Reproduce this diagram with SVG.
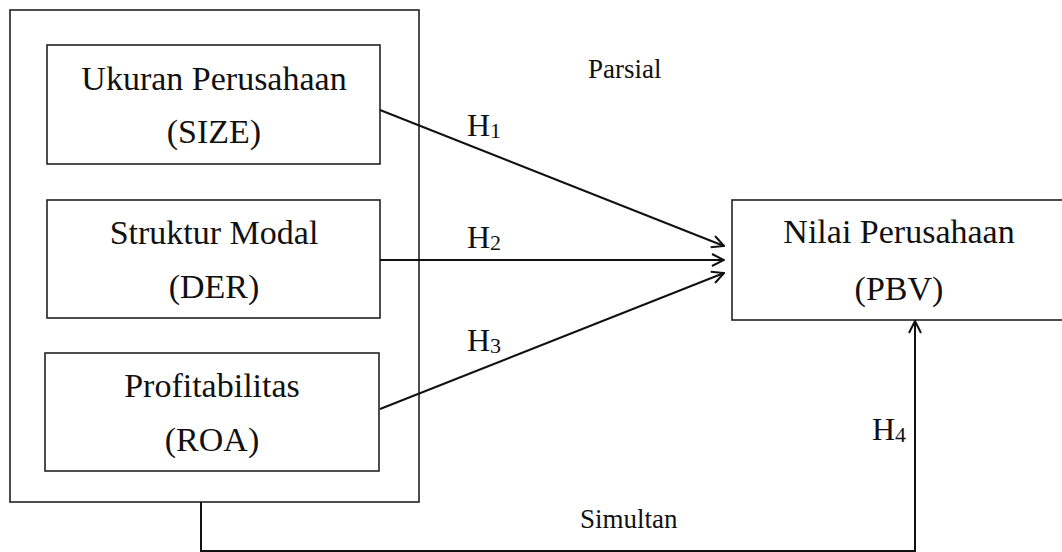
<svg xmlns="http://www.w3.org/2000/svg" width="1062" height="552" viewBox="0 0 1062 552">
<style>
.box{fill:#fff;stroke:#222;stroke-width:1.6}
.main{font-family:"Liberation Serif","Times New Roman",serif;font-size:34px;fill:#111;text-anchor:middle}
.lbl{font-family:"Liberation Serif","Times New Roman",serif;font-size:27px;fill:#111}
.hl{font-family:"Liberation Serif","Times New Roman",serif;font-size:32px;fill:#111}
.sub{font-size:22px}
.line{fill:none;stroke:#111;stroke-width:2}
</style>
<defs>
<marker id="arr" viewBox="0 0 14 14" refX="13" refY="7" markerWidth="14" markerHeight="14" markerUnits="userSpaceOnUse" orient="auto">
<path d="M1,1 L13,7 L1,13" fill="none" stroke="#111" stroke-width="2"/>
</marker>
</defs>
<rect width="1062" height="552" fill="#fff"/>
<g id="outer">
<rect class="box" x="10" y="10" width="409" height="492"/>
</g>
<g id="size">
<rect class="box" x="47" y="45" width="333" height="119"/>
<text class="main" x="214" y="90">Ukuran Perusahaan</text>
<text class="main" x="214" y="143">(SIZE)</text>
</g>
<g id="der">
<rect class="box" x="47" y="200" width="333" height="118"/>
<text class="main" x="214" y="244">Struktur Modal</text>
<text class="main" x="214" y="298">(DER)</text>
</g>
<g id="roa">
<rect class="box" x="45" y="353" width="334" height="118"/>
<text class="main" x="212" y="397">Profitabilitas</text>
<text class="main" x="212" y="451">(ROA)</text>
</g>
<g id="pbv">
<rect class="box" x="732" y="200" width="340" height="120"/>
<text class="main" x="899" y="243">Nilai Perusahaan</text>
<text class="main" x="899" y="300">(PBV)</text>
</g>
<g id="connectors">
<line class="line" x1="380" y1="110" x2="724" y2="246" marker-end="url(#arr)"/>
<line class="line" x1="380" y1="260" x2="724" y2="260" marker-end="url(#arr)"/>
<line class="line" x1="380" y1="409" x2="724" y2="273" marker-end="url(#arr)"/>
<polyline class="line" points="201,502 201,551 915,551 915,321" marker-end="url(#arr)"/>
</g>
<g id="labels">
<text class="lbl" x="588" y="78">Parsial</text>
<text class="lbl" x="580" y="528">Simultan</text>
<text class="hl" x="467" y="136">H<tspan class="sub" dy="2">1</tspan></text>
<text class="hl" x="467" y="248">H<tspan class="sub" dy="2">2</tspan></text>
<text class="hl" x="467" y="351">H<tspan class="sub" dy="2">3</tspan></text>
<text class="hl" x="872" y="440">H<tspan class="sub" dy="2">4</tspan></text>
</g>
</svg>
